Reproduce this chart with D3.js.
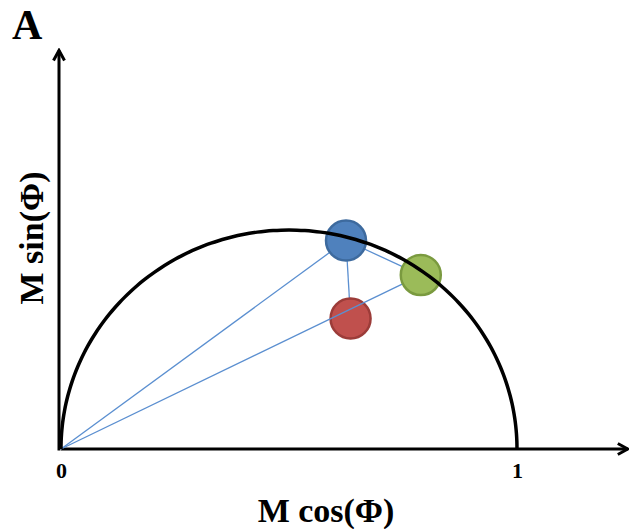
<!DOCTYPE html>
<html>
<head>
<meta charset="utf-8">
<script src="https://cdn.jsdelivr.net/npm/d3@7"></script>
<style>
  body { margin: 0; background: #fff; }
  text { font-family: "Liberation Serif", "DejaVu Serif", serif; font-weight: bold; }
</style>
</head>
<body>
<div id="chart"></div>
<script>
// Phasor points (g = M cos, s = M sin)
const pointNames = ["blue", "green", "red"];
const gValues = [0.625, 0.789, 0.635];
const sValues = [0.476, 0.397, 0.298];
const fillColors = ["#4f81bd", "#9bbb59", "#c0504d"];
const strokeColors = ["#3d6a9e", "#7a9a3f", "#9c3c39"];
// connecting lines: [from, to], "origin" = (0,0)
const linksBelow = [["blue", "red"]];
const linksAbove = [["origin", "blue"], ["origin", "green"], ["blue", "green"]];
const tickValues = [0, 1];

const width = 629, height = 529;

const svg = d3.select("#chart")
    .append("svg")
    .attr("width", width)
    .attr("height", height);

// scales
const x = d3.scaleLinear().domain([0, 1]).range([61, 517]);
const y = d3.scaleLinear().domain([0, 0.5]).range([449, 230]);

const xEnd = 1.243, yEnd = 0.91;

// arrow marker
svg.append("defs").append("marker")
    .attr("id", "arrow")
    .attr("viewBox", "0 0 14 14")
    .attr("refX", 12).attr("refY", 7)
    .attr("markerWidth", 14).attr("markerHeight", 14)
    .attr("markerUnits", "userSpaceOnUse")
    .attr("orient", "auto")
    .append("path")
    .attr("d", "M2,1.5 L12,7 L2,12.5")
    .attr("fill", "none")
    .attr("stroke", "#000")
    .attr("stroke-width", 3);

// axes lines
svg.append("line")
    .attr("x1", x(0)).attr("y1", y(0))
    .attr("x2", x(xEnd)).attr("y2", y(0))
    .attr("stroke", "#000").attr("stroke-width", 3)
    .attr("marker-end", "url(#arrow)");

svg.append("line")
    .attr("x1", x(0) - 2).attr("y1", y(0) + 1.5)
    .attr("x2", x(0) - 2).attr("y2", y(yEnd))
    .attr("stroke", "#000").attr("stroke-width", 3)
    .attr("marker-end", "url(#arrow)");

// tick labels
const xAxis = d3.axisBottom(x)
    .tickValues(tickValues)
    .tickSize(0)
    .tickPadding(13)
    .tickFormat(d3.format("d"));

const axisG = svg.append("g")
    .attr("transform", `translate(0,${y(0)})`)
    .call(xAxis);
axisG.select(".domain").remove();
axisG.selectAll("text")
    .attr("font-family", "Liberation Serif")
    .attr("font-weight", "bold")
    .attr("font-size", 22)
    .attr("fill", "#000");

const pos = name => {
    if (name === "origin") return [0, 0];
    const i = pointNames.indexOf(name);
    return [gValues[i], sValues[i]];
};

function drawLinks(data) {
    svg.append("g").selectAll("line")
        .data(data)
        .join("line")
        .attr("x1", d => x(pos(d[0])[0]))
        .attr("y1", d => y(pos(d[0])[1]))
        .attr("x2", d => x(pos(d[1])[0]))
        .attr("y2", d => y(pos(d[1])[1]))
        .attr("stroke", "#5b8fd0")
        .attr("stroke-width", 1.3);
}

function drawPoints(names) {
    svg.append("g").selectAll("circle")
        .data(names)
        .join("circle")
        .attr("cx", d => x(pos(d)[0]))
        .attr("cy", d => y(pos(d)[1]))
        .attr("r", 20)
        .attr("fill", d => fillColors[pointNames.indexOf(d)])
        .attr("stroke", d => strokeColors[pointNames.indexOf(d)])
        .attr("stroke-width", 2.5);
}

// layering: blue-red link, red point, other links, blue/green points, semicircle
drawLinks(linksBelow);
drawPoints(["red"]);
drawLinks(linksAbove);
drawPoints(["blue", "green"]);

// universal semicircle
const angles = d3.range(0, 181, 2).map(a => a * Math.PI / 180);
const arc = d3.line()
    .x(a => x(0.5 + 0.5 * Math.cos(a)))
    .y(a => y(0.5 * Math.sin(a)))
    .curve(d3.curveCatmullRom);

svg.append("path")
    .attr("d", arc(angles))
    .attr("fill", "none")
    .attr("stroke", "#000")
    .attr("stroke-width", 3.5);

// labels
svg.append("text")
    .attr("x", 12).attr("y", 39)
    .attr("font-size", 42)
    .text("A");

svg.append("text")
    .attr("x", 326).attr("y", 522)
    .attr("text-anchor", "middle")
    .attr("font-size", 34)
    .text("M cos(Φ)");

svg.append("text")
    .attr("transform", "translate(43,238) rotate(-90)")
    .attr("text-anchor", "middle")
    .attr("font-size", 34)
    .text("M sin(Φ)");
</script>
</body>
</html>
